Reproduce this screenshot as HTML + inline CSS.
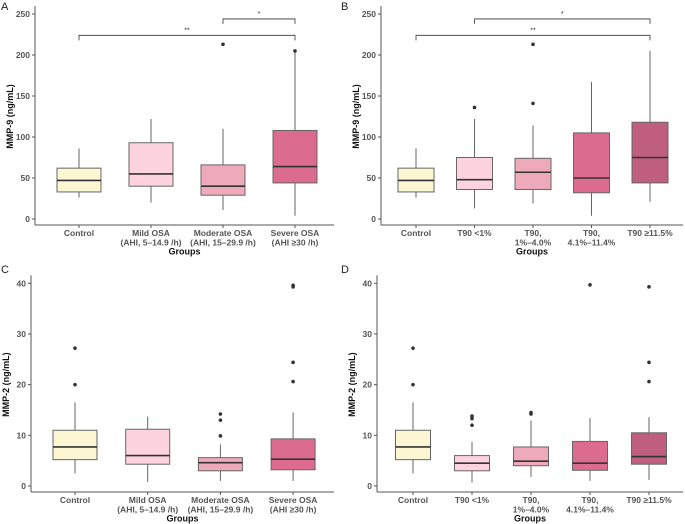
<!DOCTYPE html>
<html><head><meta charset="utf-8"><style>
body{margin:0;background:#fff}
svg{display:block}
text{font-family:"Liberation Sans",Arial,sans-serif}
</style></head><body>
<svg id="c" width="685" height="524" xmlns="http://www.w3.org/2000/svg"></svg>
<script>
// ---- data ----
const catsOSA = [["Control"],["Mild OSA","(AHI, 5–14.9 /h)"],["Moderate OSA","(AHI, 15–29.9 /h)"],["Severe OSA","(AHI ≥30 /h)"]];
const catsT90 = [["Control"],["T90 <1%"],["T90,","1%–4.0%"],["T90,","4.1%–11.4%"],["T90 ≥11.5%"]];
const colOSA = ["#fdf6d2","#fdd3df","#eeaabb","#dc6c8f"];
const colT90 = ["#fdf6d2","#fdd3df","#eeaabb","#dc6c8f","#bf5e7f"];
// [lowWhisker, q1, median, q3, highWhisker]
const statsA = [[26,33,47,62,86],[20,40,55,93,122],[11,29,40,66,110],[4,44,64,108,205]];
const outA = [[],[],[213],[205]];
const statsB = [[26,33,47,62,86],[13,36,48,75,122],[19,36,57,74,114],[4,32,50,105,167],[21,44,75,118,205]];
const outB = [[],[136],[141,213],[],[]];
const statsC = [[2.5,5.2,7.7,11,16.5],[0.8,4.3,6,11.2,13.7],[1,3,4.6,5.6,8.2],[1,3.2,5.3,9.3,14.5]];
const outC = [[20,27.2],[],[9.9,13,14.2],[20.6,24.4,39.3,39.6]];
const statsD = [[2.5,5.2,7.7,11,16.5],[0.7,3,4.5,6,8.7],[1.8,4,4.9,7.7,12.9],[1,3.1,4.5,8.8,13.4],[1.2,4.3,5.8,10.5,13.6]];
const outD = [[20,27.2],[12,13.3,13.8],[14.2,14.5],[39.7],[20.6,24.4,39.3]];
const ticks9 = [0,50,100,150,200,250];
const ticks2 = [0,10,20,30,40];
const bracketsA = [[0,3,224,"**"],[2,3,244,"*"]];
const bracketsB = [[0,4,224,"**"],[1,4,244,"*"]];

const svg = document.getElementById('c');
const NS = "http://www.w3.org/2000/svg";
function el(tag, attrs, parent, txt){
  const e = document.createElementNS(NS, tag);
  for (const k in attrs) e.setAttribute(k, attrs[k]);
  if (txt !== undefined) e.textContent = txt;
  (parent || svg).appendChild(e);
  return e;
}

function panel(p){
  const g = el('g', {});
  
  
  const y = v => p.y0 - (v - 0) * (p.y0 - p.yTop) / p.vTop;
  const x = i => p.x0 + i * p.dx;
  const lt = el('text', {x:p.lx, y:p.ly, 'font-size':11, fill:'#222'}, g, p.letter);
  
  
  const ya = el('line', {x1:p.ax, y1:p.yTop-8, x2:p.ax, y2:p.axY, stroke:'#555', 'stroke-width':1}, g);
  
  
  const xa = el('line', {x1:p.ax, y1:p.axY, x2:p.right, y2:p.axY, stroke:'#555', 'stroke-width':1}, g);
  
  
  p.ticks.forEach(t => {
    el('line', {x1:p.ax-3, y1:y(t), x2:p.ax, y2:y(t), stroke:'#555'}, g);
    const tl = el('text', {x:p.ax-5, y:y(t)+3, 'font-size':8.5, 'font-weight':'bold', fill:'#555', 'text-anchor':'end'}, g, t);
    
    
  });
  const yt = el('text', {x:0, y:0, 'font-size':9, 'font-weight':'bold', fill:'#111', 'text-anchor':'middle', transform:`translate(${p.ax-22},${(p.yTop+p.y0)/2}) rotate(-90)`}, g, p.ytitle);
  
  
  const xt = el('text', {x:(p.ax+p.right)/2, y:p.axY+29.5, 'font-size':9, 'font-weight':'bold', fill:'#111', 'text-anchor':'middle'}, g, 'Groups');
  
  
  p.cats.forEach((c, i) => {
    el('line', {x1:x(i), y1:p.axY, x2:x(i), y2:p.axY+3, stroke:'#555'}, g);
    c.forEach((line, j) => {
      const cl = el('text', {x:x(i), y:p.axY+11+j*9.5, 'font-size':8.5, 'font-weight':'bold', fill:'#555', 'text-anchor':'middle'}, g, line);
      
      
    });
    const s = p.stats[i];
    const bg = el('g', {}, g);
    
    
    el('line', {x1:x(i), y1:y(s[0]), x2:x(i), y2:y(s[4]), stroke:'#666', 'stroke-width':1}, bg);
    el('rect', {x:x(i)-p.bw/2, y:y(s[3]), width:p.bw, height:y(s[1])-y(s[3]), fill:p.cols[i], stroke:'#666', 'stroke-width':1}, bg);
    el('line', {x1:x(i)-p.bw/2, y1:y(s[2]), x2:x(i)+p.bw/2, y2:y(s[2]), stroke:'#333', 'stroke-width':1.6}, bg);
    p.out[i].forEach(o => {
      const pt = el('circle', {cx:x(i), cy:y(o), r:1.8, fill:'#333'}, bg);
      
      
    });
  });
  (p.brackets || []).forEach(b => {
    const bgr = el('g', {}, g);
    
    
    const yy = y(b[2]);
    el('path', {d:`M${x(b[0])},${yy+5}V${yy}H${x(b[1])}V${yy+5}`, fill:'none', stroke:'#333', 'stroke-width':0.8}, bgr);
    el('text', {x:(x(b[0])+x(b[1]))/2, y:yy-3, 'font-size':7, fill:'#333', 'text-anchor':'middle'}, bgr, b[3]);
  });
}

panel({letter:'A', lx:1, ly:10, ax:35, axY:225, right:334, y0:219, yTop:14, vTop:250, x0:79, dx:72, bw:44, ticks:ticks9, cats:catsOSA, cols:colOSA, stats:statsA, out:outA, brackets:bracketsA, ytitle:'MMP-9 (ng/mL)'});
panel({letter:'B', lx:341, ly:10, ax:381, axY:225, right:683, y0:219, yTop:14, vTop:250, x0:416, dx:58.5, bw:36, ticks:ticks9, cats:catsT90, cols:colT90, stats:statsB, out:outB, brackets:bracketsB, ytitle:'MMP-9 (ng/mL)'});
panel({letter:'C', lx:1, ly:273, ax:31, axY:492, right:334, y0:486, yTop:283.3, vTop:40, x0:75, dx:72.7, bw:44, ticks:ticks2, cats:catsOSA, cols:colOSA, stats:statsC, out:outC, ytitle:'MMP-2 (ng/mL)'});
panel({letter:'D', lx:341, ly:273, ax:377, axY:492, right:683, y0:486, yTop:283.3, vTop:40, x0:413, dx:59, bw:35, ticks:ticks2, cats:catsT90, cols:colT90, stats:statsD, out:outD, ytitle:'MMP-2 (ng/mL)'});
</script>
</body></html>
